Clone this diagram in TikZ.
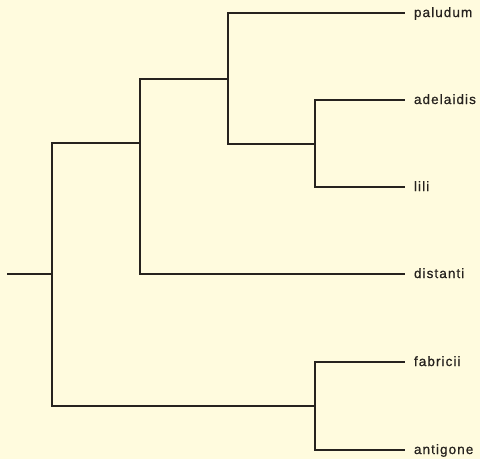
\documentclass[tikz,border=0pt]{standalone}
\usepackage{fontspec}
\setmainfont{Liberation Sans}
\usetikzlibrary{calc}
\definecolor{paper}{RGB}{255,251,222}
\definecolor{ink}{RGB}{38,34,30}
\newfontfamily\taxfont[LetterSpace=8,FakeBold=0.6]{Liberation Sans}

\begin{document}
\begin{tikzpicture}[x=1pt,y=-1pt,line width=1.1pt,draw=ink,
		taxon/.style={anchor=west,inner sep=0pt,outer xsep=9pt,text height=8pt,text depth=0pt,text=ink,font=\taxfont\fontsize{13.5}{15}\selectfont}]
				
				% Background
				\fill[paper] (0,0) rectangle (480,459);
				
				% Taxa
				\node[taxon] (paludum) at (405,13) {paludum};
				\node[taxon] (adelaidis) at (405,100) {adelaidis};
				\node[taxon] (lili) at (405,187) {lili};
				\node[taxon] (distanti) at (405,274) {distanti};
				\node[taxon] (fabricii) at (405,362) {fabricii};
				\node[taxon] (antigone) at (405,450) {antigone};
				
				% Branch points
				\coordinate (stem) at (7,274);
				\coordinate (root) at (52,274);
				\coordinate (upper) at (140,143);
				\coordinate (inner) at (228,79);
				\coordinate (pair) at (315,144);
				\coordinate (lower) at (315,406);
				
				% Branches
				\draw (stem) -- (root);
				\draw (root) |- (upper);
				\draw (root) |- (lower);
				\draw (upper) |- (inner);
				\draw (upper) |- (distanti.west);
				\draw (inner) |- (paludum.west);
				\draw (inner) |- (pair);
				\draw (pair) |- (adelaidis.west);
				\draw (pair) |- (lili.west);
				\draw (lower) |- (fabricii.west);
				\draw (lower) |- (antigone.west);
				
			\end{tikzpicture}
\end{document}
